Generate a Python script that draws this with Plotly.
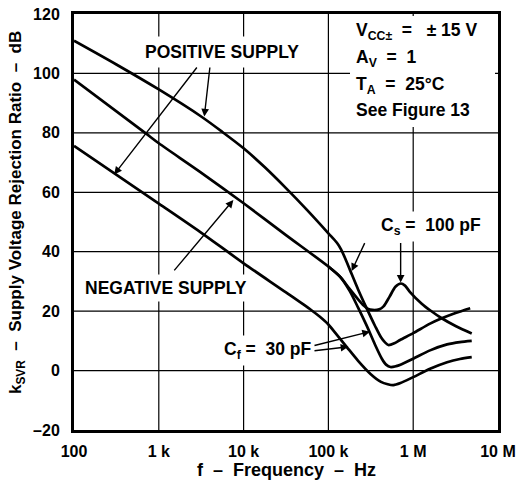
import numpy as np
import plotly.graph_objects as go

# ---- data (frequency in Hz, kSVR in dB) ----
pos_freq = [100, 316, 1000, 3160, 5620, 10000, 17800, 31600, 56200, 100000, 126000, 141000,
            158000, 180000, 224000, 282000, 355000, 417000, 468000, 510000, 600000,
            700000, 1000000, 1580000, 2170000, 3160000, 4700000]
pos_db = [111, 103, 94.6, 85.5, 80.3, 74.8, 68.4, 61.4, 54, 46.2, 43, 40.8,
          37.7, 33.8, 27.3, 21, 15, 11.2, 9.4, 8.6, 9.2,
          10.3, 12.6, 15.8, 17.6, 19.4, 21]

neg_freq = [100, 690, 1000, 3060, 10000, 31600, 100000, 137000, 178000, 224000, 282000,
            355000, 427000, 479000, 540000, 630000, 708000, 1000000, 1580000, 2510000,
            3550000, 4900000]
neg_db = [97.9, 80, 76.5, 66.9, 56.3, 45.6, 35, 31.6, 26.8, 21.2, 15.2,
          8.7, 4, 2, 1.2, 1.5, 2, 4, 6.8, 8.8,
          9.6, 10]

cs_freq = [100000, 137000, 178000, 224000, 263000, 295000, 331000, 398000, 447000, 525000,
           617000, 716000, 800000, 912000, 1260000, 1580000, 2170000, 3160000, 4900000]
cs_db = [35, 31.6, 27.5, 24, 21.8, 20.7, 20.4, 20.6, 21.6, 24.8,
         28.2, 29.3, 28.6, 26.5, 22.5, 20.3, 17.6, 15, 12.5]

bot_freq = [100, 1000, 3060, 10000, 31600, 63100, 79400, 100000, 126000, 164000, 224000,
            316000, 417000, 501000, 582000, 708000, 1000000, 1580000, 2510000, 3550000, 4900000]
bot_db = [75.6, 56.2, 46.7, 36.1, 26.3, 20.3, 18.1, 15.5, 12, 8, 3.3,
          -1.2, -3.8, -4.6, -4.9, -4.2, -2.2, 0.6, 2.8, 3.9, 4.5]

x_tickvals = [100, 1e3, 1e4, 1e5, 1e6, 1e7]
x_ticktext = ["100", "1 k", "10 k", "100 k", "1 M", "10 M"]
y_tickvals = [-20, 0, 20, 40, 60, 80, 100, 120]
y_ticktext = ["\u201320", "0", "20", "40", "60", "80", "100", "120"]

X_RANGE = [2, 7]
Y_RANGE = [-20, 120]

FONT = "Liberation Sans, Arial, sans-serif"
NB = "\u00a0"
TS = 17.5  # annotation text size

fig = go.Figure()

# grid lines (decades / every 20 dB)
for v in x_tickvals[1:-1]:
    xp = (np.log10(v) - X_RANGE[0]) / (X_RANGE[1] - X_RANGE[0])
    fig.add_shape(type="line", xref="paper", yref="paper", x0=xp, x1=xp, y0=0, y1=1,
                  line=dict(color="black", width=1.2), layer="below")
for v in y_tickvals[1:-1]:
    fig.add_shape(type="line", xref="paper", yref="y", x0=0, x1=1, y0=v, y1=v,
                  line=dict(color="black", width=1.2), layer="below")

for f, d in [(pos_freq, pos_db), (neg_freq, neg_db), (cs_freq, cs_db), (bot_freq, bot_db)]:
    fig.add_trace(go.Scatter(x=f, y=d, mode="lines",
                             line=dict(color="black", width=2.7, shape="spline", smoothing=0.8),
                             showlegend=False, hoverinfo="skip"))

L = np.log10

def arrow(x, y, ax, ay):
    fig.add_annotation(x=L(x), y=y, ax=L(ax), ay=ay, xref="x", yref="y", axref="x", ayref="y",
                       text="", showarrow=True, arrowhead=2, arrowsize=1.1, arrowwidth=1.4,
                       arrowcolor="black", standoff=0, startstandoff=0)

def label(x, y, text, size=TS, xanchor="center", bg="white", pad=3):
    fig.add_annotation(x=L(x), y=y, xref="x", yref="y", text=text, showarrow=False,
                       xanchor=xanchor, yanchor="middle", bgcolor=bg, borderpad=pad,
                       font=dict(size=size, color="black", family=FONT, weight="bold"))

# white patch behind the condition block (grid is interrupted there)
fig.add_annotation(x=0.993, y=0.995, xref="paper", yref="paper", xanchor="right", yanchor="top",
                   text=" ", showarrow=False, width=145, height=111, bgcolor="white",
                   borderpad=0, borderwidth=0)

# text labels
label(5600, 107.3, "POSITIVE SUPPLY", pad=5)
label(1230, 27.7, "NEGATIVE SUPPLY")
label(1600000, 48.4, "C<sub>s</sub>" + NB + "=" + NB * 2 + "100 pF")
label(19400, 6.9, "C<sub>f</sub>" + NB + "=" + NB * 2 + "30 pF")
LX = 190000
label(LX, 114.1, "V<sub>CC\u00b1</sub>" + NB * 2 + "=" + NB * 3 + "\u00b1" + NB + "15 V", xanchor="left", bg=None)
label(LX, 104.9, "A<sub>V</sub>" + NB * 2 + "=" + NB * 2 + "1", xanchor="left", bg=None)
label(LX, 96.1, "T<sub>A</sub>" + NB * 2 + "=" + NB * 2 + "25\u00b0C", xanchor="left", bg=None)
label(LX, 87.7, "See Figure 13", xanchor="left", bg=None)

# arrows
arrow(3440, 85.5, 4020, 102.5)      # positive -> top curve
arrow(298, 66, 2900, 102.5)         # positive -> bottom curve
arrow(7570, 57.4, 1470, 33.2)       # negative -> middle curve
arrow(188000, 33.5, 273000, 43.4)   # Cs -> top steep
arrow(711000, 29.6, 711000, 43.4)   # Cs -> hump
arrow(309000, 13.1, 65800, 8.3)     # Cf -> middle branch
arrow(172000, 8.0, 65800, 6.6)      # Cf -> bottom curve

# axis titles
fig.add_annotation(x=-0.134, y=0.522, xref="paper", yref="paper", textangle=-90, showarrow=False,
                   xanchor="center", yanchor="middle",
                   text="k<sub>SVR</sub>" + NB + " \u2013 " + NB + "Supply Voltage Rejection Ratio" + NB + " \u2013 " + NB + "dB",
                   font=dict(size=17, color="black", family=FONT, weight="bold"))
fig.add_annotation(x=0.502, y=-0.096, xref="paper", yref="paper", showarrow=False,
                   xanchor="center", yanchor="middle",
                   text="f" + NB + " \u2013 " + NB + "Frequency" + NB + " \u2013 " + NB + "Hz",
                   font=dict(size=18, color="black", family=FONT, weight="bold"))

axis_common = dict(showgrid=False, showline=True, linecolor="black",
                   linewidth=3, mirror=True, ticks="", zeroline=False, automargin=False,
                   tickfont=dict(size=16, color="black", family=FONT, weight="bold"))

fig.update_layout(
    template="none",
    width=518, height=484,
    margin=dict(l=74, r=20, t=14, b=54),
    plot_bgcolor="white", paper_bgcolor="white",
    font=dict(family=FONT, color="black", weight="bold"),
    xaxis=dict(type="log", range=X_RANGE, tickvals=x_tickvals, ticktext=x_ticktext,
               ticklabelstandoff=5, ticklabeloverflow="allow", **axis_common),
    yaxis=dict(range=Y_RANGE, tickvals=y_tickvals, ticktext=y_ticktext,
               ticklabelstandoff=8, ticklabeloverflow="allow", **axis_common),
)

fig.write_html("out.html", config={"displayModeBar": False},
               post_script="document.body.style.margin='0px';")
